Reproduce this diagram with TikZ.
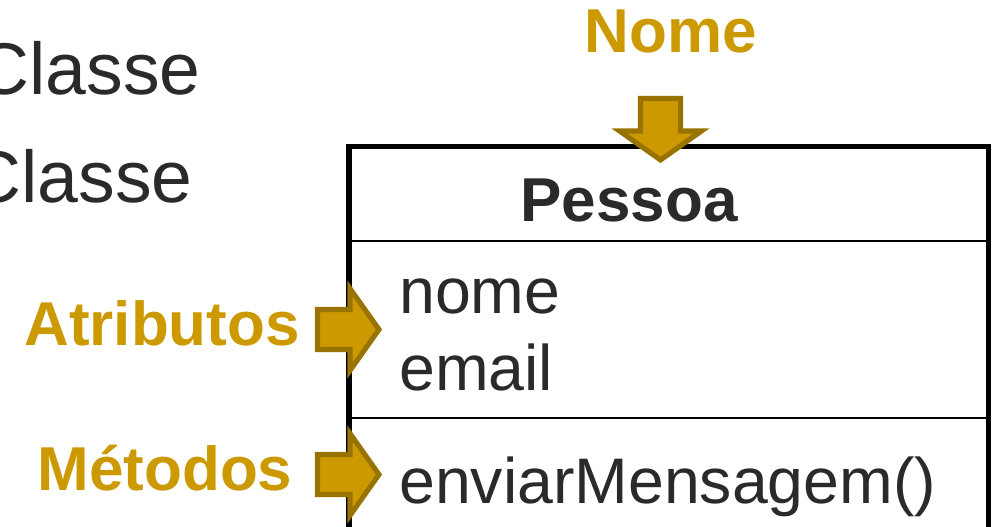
\documentclass[tikz,border=0pt]{standalone}
\usepackage{fontspec}
\setmainfont{Liberation Sans}
\definecolor{gold}{HTML}{CC9900}
\definecolor{goldedge}{HTML}{997300}
\definecolor{ink}{HTML}{2A2A2A}
\tikzset{
  big/.style={font=\fontsize{48.3}{52}\selectfont, text=ink, inner sep=0pt},
  bigbold/.style={big, font=\fontsize{46.5}{50}\selectfont\bfseries},
  label/.style={bigbold, text=gold},
  huge/.style={font=\fontsize{55}{60}\selectfont, text=ink, inner sep=0pt},
  frame/.style={draw=black, line width=3.8pt, line join=miter},
  divider/.style={draw=black, line width=1.6pt},
  blockarrow/.pic={
    \path[fill=gold, draw=goldedge, line width=3.8pt, line join=miter, miter limit=10]
      (-61.5,-20) -- (-29,-20) -- (-29,-41) -- (0,0) -- (-29,41) -- (-29,20) -- (-61.5,20) -- cycle;
  }
}
\begin{document}
\begin{tikzpicture}[x=0.75pt, y=-0.75pt]
  \useasboundingbox (0,0) rectangle (992,527);
  \clip (0,0) rectangle (992,527);

  % class box, running off the bottom edge
  \draw[frame] (349,146.5) rectangle (988.5,600);
  \draw[divider] (349,241) -- (988.5,241);
  \draw[divider] (349,418) -- (988.5,418);

  % left-hand text
  \node[huge, anchor=base east] (c1) at (201,95) {Classe};
  \node[huge, anchor=base east] (c2) at (193,203) {Classe};

  % class contents
  \node[bigbold, anchor=base] (pessoa) at (629,222) {Pessoa};
  \node[big, anchor=base west] (attr1) at (399,313) {nome};
  \node[big, anchor=base west] (attr2) at (399,390) {email};
  \node[big, anchor=base west] (meth) at (399,503) {enviarMensagem()};

  % callouts
  \node[label, anchor=base] (nome) at (671,53) {Nome};
  \node[label, anchor=base] (atrib) at (162,345) {Atributos};
  \node[label, anchor=base] (metod) at (165,490) {Métodos};

  \pic[rotate=-90] at (660.5,160) {blockarrow};
  \pic at (379,329.5) {blockarrow};
  \pic at (379,474.5) {blockarrow};
\end{tikzpicture}
\end{document}
